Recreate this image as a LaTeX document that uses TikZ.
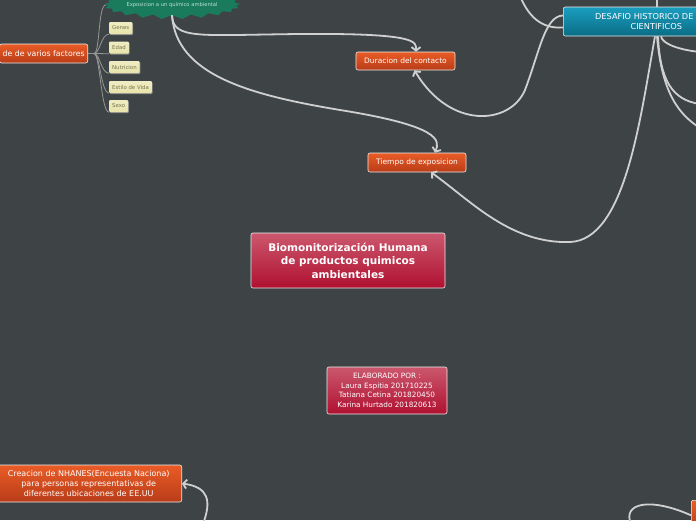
\documentclass[tikz,border=0pt]{standalone}
\usepackage{fontspec}
\setmainfont{DejaVu Sans}
\usetikzlibrary{arrows.meta,shapes.symbols,shadows}

\definecolor{fondo}{RGB}{62,68,69}
\definecolor{linea}{RGB}{208,208,208}
\definecolor{ramaGris}{RGB}{150,150,150}
\definecolor{narA}{RGB}{234,92,38}
\definecolor{narB}{RGB}{184,60,24}
\definecolor{rojoA}{RGB}{203,88,110}
\definecolor{rojoB}{RGB}{176,16,48}
\definecolor{azulA}{RGB}{26,158,192}
\definecolor{azulB}{RGB}{10,108,132}
\definecolor{crema}{RGB}{232,228,170}
\definecolor{cremaT}{RGB}{120,116,80}
\definecolor{verde}{RGB}{26,122,92}
\definecolor{verdeT}{RGB}{190,228,210}

\begin{document}
\begin{tikzpicture}[x=1pt, y=-1pt, >={Straight Barb[length=3.5pt,width=9pt]},
  every node/.style={text=white, inner sep=2pt},
  caja/.style={draw=white!85!gray, line width=0.6pt, rounded corners=2pt, align=center},
  naranja/.style={caja, top color=narA, bottom color=narB, font=\fontsize{7.5}{10}\selectfont},
  rojo/.style={caja, top color=rojoA, bottom color=rojoB},
  azul/.style={caja, top color=azulA, bottom color=azulB, font=\fontsize{8.2}{9.5}\selectfont},
  factor/.style={anchor=west, top color=crema!70!white, bottom color=crema, text=cremaT,
    rounded corners=1pt, inner sep=3pt, minimum height=12pt, font=\fontsize{5.4}{6}\selectfont,
    drop shadow={shadow xshift=0.8pt, shadow yshift=-1pt, fill=black!45, opacity=1}},
  burst/.style={starburst, starburst points=21, starburst point height=4pt, random starburst=0,
    fill=verde, text=verdeT, font=\fontsize{5.2}{6}\selectfont, minimum width=90pt,
    inner xsep=0pt, inner ysep=4.5pt},
  enlace/.style={draw=linea, line width=1.8pt},
  ramita/.style={draw=ramaGris, line width=0.8pt}]

  % fondo
  \useasboundingbox (0,0) rectangle (696,520);
  \fill[fondo] (0,0) rectangle (696,520);
  \clip (0,0) rectangle (696,520);

  % ==================== nodos ====================
  \node[rojo, minimum width=194pt, minimum height=55pt, font=\bfseries\fontsize{10.5}{13.5}\selectfont]
    (bio) at (348,260.5) {Biomonitorización Humana\\de productos quimicos\\ambientales};
  \node[rojo, minimum width=120pt, minimum height=47pt, font=\fontsize{7.3}{9.5}\selectfont]
    (elab) at (387,390.5) {ELABORADO POR :\\Laura Espitia 201710225\\Tatiana Cetina 201820450\\Karina Hurtado 201820613};

  \node[naranja, minimum width=99pt, minimum height=18pt] (durac) at (405.5,61) {Duracion del contacto};
  \node[naranja, minimum width=98pt, minimum height=19pt] (tiempo) at (417,162.5) {Tiempo de exposicion};
  \node[naranja, anchor=east, minimum height=19pt, inner xsep=3pt, font=\fontsize{7.8}{10}\selectfont]
    (fact) at (88,53.5) {de de varios factores};
  \node[naranja, anchor=east, minimum width=186pt, minimum height=37pt, font=\fontsize{8}{10}\selectfont]
    (nhanes) at (182,483.5)
    {Creacion de NHANES(Encuesta Naciona)\\para personas representativas de\\diferentes ubicaciones de EE.UU};
  \node[naranja, anchor=north west, minimum width=40pt, minimum height=30pt] (otro) at (691,500) {};

  \node[azul, anchor=west, minimum width=186pt, minimum height=29pt] (desaf) at (563,21.5)
    {DESAFIO HISTORICO DE\hspace*{24pt}\\CIENTIFICOS};

  \node[burst] (quim) at (172,5) {Exposicion a un químico ambiental};

  \node[factor] (genes) at (109,28) {Genes};
  \node[factor] (edad) at (109,47.5) {Edad};
  \node[factor] (nutri) at (109,67) {Nutricion};
  \node[factor] (estilo) at (109,87) {Estilo de Vida};
  \node[factor] (sexo) at (109,106) {Sexo};

  % puntos fuera del lienzo
  \coordinate (arribaA) at (520,-4);
  \coordinate (arribaB) at (657,-4);
  \coordinate (derA) at (700,52);
  \coordinate (derB) at (700,104);
  \coordinate (derC) at (700,128);
  \coordinate (abajoA) at (203,524);
  \coordinate (abajoB) at (631,524);

  % ==================== ramas de factores ====================
  \draw[ramita] (fact.east) -- ++(6,0) .. controls +(6,0) and (98,5) .. (quim.west);
  \draw[ramita] (fact.east) -- ++(6,0) .. controls +(6,0) and +(-8,0) .. (genes.south west);
  \draw[ramita] (fact.east) -- ++(6,0) .. controls +(6,0) and +(-8,0) .. (edad.south west);
  \draw[ramita] (fact.east) -- ++(6,0) .. controls +(6,0) and +(-8,0) .. (nutri.south west);
  \draw[ramita] (fact.east) -- ++(6,0) .. controls +(6,0) and +(-8,0) .. (estilo.south west);
  \draw[ramita] (fact.east) -- ++(6,0) .. controls +(6,0) and +(-8,0) .. (sexo.south west);

  % ==================== enlaces ====================
  \draw[enlace, ->] (quim.south) .. controls (173,40) and (200,35) .. (300,34)
    .. controls (420,33) and (416,42) .. ([xshift=10.5pt]durac.north);
  \draw[enlace, ->] (quim.south) .. controls (176,75) and (250,95) .. (340,110)
    .. controls (440,126) and (440,140) .. ([xshift=18pt]tiempo.north);
  \draw[enlace, ->] ([yshift=6pt]desaf.west) .. controls (545,16) and (540,50) .. (525,90)
    .. controls (510,125) and (450,130) .. ([xshift=9pt]durac.south);
  \draw[enlace] ([yshift=-6pt]desaf.west) .. controls (540,29) and (528,15) .. (arribaA);
  \draw[enlace, ->] ([xshift=92pt]desaf.south west) .. controls (640,120) and (625,240) .. (570,242)
    .. controls (510,244) and (470,200) .. ([xshift=14pt]tiempo.south);
  \draw[enlace] ([xshift=94pt]desaf.north west) -- (arribaB);
  \draw[enlace] ([xshift=98pt]desaf.south west) .. controls (662,44) and (680,50) .. (derA);
  \draw[enlace] ([xshift=95pt]desaf.south west) .. controls (660,80) and (672,100) .. (derB);
  \draw[enlace] ([xshift=94pt]desaf.south west) .. controls (662,95) and (680,115) .. (derC);
  \draw[enlace, ->] (abajoA) .. controls (212,500) and (208,487) .. (nhanes.east);
  \draw[enlace] (otro.west) .. controls (650,497) and (622,503) .. (abajoB);

\end{tikzpicture}
\end{document}
